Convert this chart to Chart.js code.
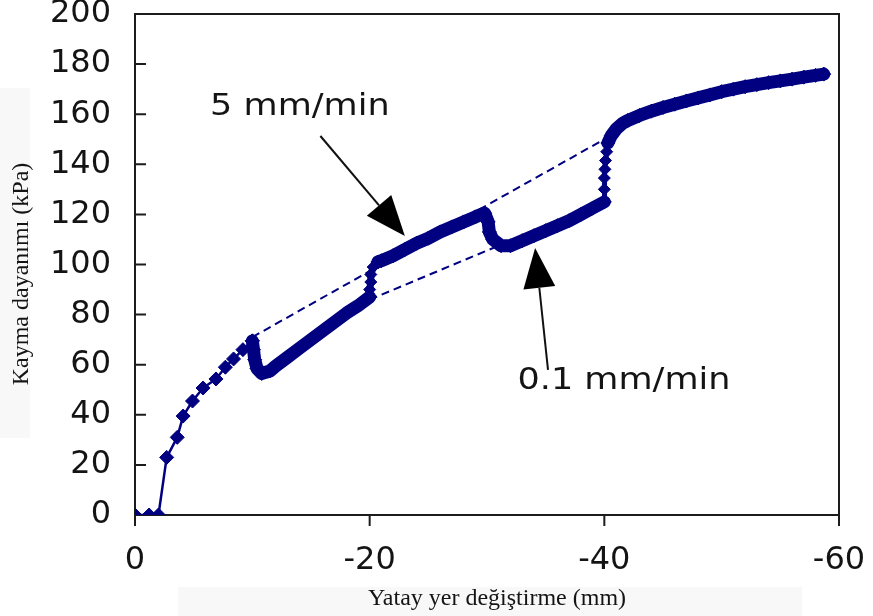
<!DOCTYPE html>
<html>
<head>
<meta charset="utf-8">
<script src="https://cdn.jsdelivr.net/npm/chart.js@4/dist/chart.umd.min.js"></script>
<style>
html,body{margin:0;padding:0;background:#fff;}
</style>
</head>
<body>
<canvas id="shearChart" width="873" height="616"></canvas>
<script>
// displacement (mm) / shear strength (kPa)
let startX = [0, -1.2, -2, -2.7, -3.6, -4.1, -4.9, -5.8, -6.9, -7.7, -8.4, -9.2, -10];
let startY = [0, 0, 0, 23, 31, 39.5, 45.5, 50.7, 54.3, 59, 62.3, 66, 69.5];

let slowAX = [-10, -10.1, -10.2, -10.4, -10.8, -11.5, -12, -13, -14, -15, -16, -17, -18, -19, -20];
let slowAY = [69.5, 66, 62, 58.5, 56.5, 57.5, 59.5, 63, 66.5, 70, 73.5, 77, 80.5, 83.5, 87];

let jump1X = [-20, -20, -20.1, -20.1, -20.3, -20.7];
let jump1Y = [87, 90, 93, 96, 99, 101];

let midX = [-20.7, -21, -22, -23, -24, -25, -26, -27, -28, -29, -29.8, -30.1, -30.2, -30.5, -31.2, -32, -33, -34, -35, -36, -37, -38, -39, -40];
let midY = [101, 101.5, 103.5, 106, 108.5, 110.5, 113, 115, 117, 119, 120.5, 117, 113, 110, 107.5, 107.5, 109.5, 111.5, 113.5, 115.5, 117.5, 120, 122.5, 125];

let jump2X = [-40, -40, -40, -40.05, -40.1, -40.2, -40.3];
let jump2Y = [125, 130, 134.5, 138, 141.5, 145, 148.5];

let lastX = [-40.3, -40.6, -41, -41.6, -42, -43, -44, -45, -46, -47, -48, -49, -50, -51, -52, -53, -54, -55, -56, -57, -58, -58.7];
let lastY = [148.5, 151.5, 154, 156.5, 157.5, 159.5, 161.2, 162.7, 164, 165.3, 166.5, 167.7, 169, 170, 171, 171.8, 172.6, 173.3, 174, 174.8, 175.5, 176];

// dashed trend lines (5 mm/min and 0.1 mm/min)
let fastLineX = [-10, -40];
let fastLineY = [71, 150];
let slowLineX = [-20, -31];
let slowLineY = [86, 107.5];

let xTicks = [0, -20, -40, -60];
let yTicks = [0, 20, 40, 60, 80, 100, 120, 140, 160, 180, 200];

const navy = '#000080';

function pts(xs, ys) {
  let out = [];
  for (let i = 0; i < xs.length; i++) {
    out.push({x: xs[i], y: ys[i]});
  }
  return out;
}

function markerSet(xs, ys, lineW, r) {
  return {
    data: pts(xs, ys),
    showLine: true,
    borderColor: navy,
    backgroundColor: navy,
    borderWidth: lineW,
    borderJoinStyle: 'round',
    borderCapStyle: 'round',
    pointStyle: 'rectRot',
    pointRadius: r,
    pointBorderWidth: 1,
    pointBorderColor: navy,
    pointBackgroundColor: navy
  };
}

function dashSet(xs, ys) {
  return {
    data: pts(xs, ys),
    showLine: true,
    borderColor: navy,
    borderWidth: 2,
    borderDash: [8, 5],
    pointRadius: 0
  };
}

function drawArrow(ctx, x0, y0, x1, y1) {
  let ang = Math.atan2(y1 - y0, x1 - x0);
  let headL = 40, headW = 16;
  let bx = x1 - Math.cos(ang) * headL, by = y1 - Math.sin(ang) * headL;
  ctx.beginPath();
  ctx.moveTo(x0, y0);
  ctx.lineTo(bx, by);
  ctx.stroke();
  ctx.beginPath();
  ctx.moveTo(x1, y1);
  ctx.lineTo(bx + Math.sin(ang) * headW, by - Math.cos(ang) * headW);
  ctx.lineTo(bx - Math.sin(ang) * headW, by + Math.cos(ang) * headW);
  ctx.closePath();
  ctx.fill();
}

function wideText(ctx, txt, px, py) {
  ctx.save();
  ctx.translate(px, py);
  ctx.scale(1.13, 1);
  ctx.fillText(txt, 0, 0);
  ctx.restore();
}

const decor = {
  id: 'decor',
  beforeDraw(chart) {
    let ctx = chart.ctx;
    ctx.save();
    ctx.fillStyle = '#fff';
    ctx.fillRect(0, 0, chart.width, chart.height);
    ctx.fillStyle = '#f8f8f8';
    ctx.fillRect(0, 88, 30, 350);
    ctx.fillRect(178, 587, 624, 29);
    ctx.restore();
  },
  beforeDatasetsDraw(chart) {
    let {ctx, chartArea: a, scales} = chart;
    ctx.save();
    ctx.strokeStyle = '#1c1c1c';
    ctx.lineWidth = 2;
    ctx.strokeRect(a.left, a.top, a.right - a.left, a.bottom - a.top);
    ctx.beginPath();
    scales.y.ticks.forEach(t => {
      let py = scales.y.getPixelForValue(t.value);
      ctx.moveTo(a.left, py);
      ctx.lineTo(a.left + 11, py);
    });
    scales.x.ticks.forEach(t => {
      let px = scales.x.getPixelForValue(t.value);
      ctx.moveTo(px, a.bottom);
      ctx.lineTo(px, a.bottom + 11);
    });
    ctx.stroke();
    ctx.restore();
  },
  afterDraw(chart) {
    let {ctx, scales: {x, y}} = chart;
    ctx.save();
    ctx.strokeStyle = '#111';
    ctx.fillStyle = '#000';
    ctx.lineWidth = 2;
    drawArrow(ctx, x.getPixelForValue(-15.8), y.getPixelForValue(151.3), x.getPixelForValue(-23.0), y.getPixelForValue(111.4));
    drawArrow(ctx, x.getPixelForValue(-35.2), y.getPixelForValue(57.9), x.getPixelForValue(-34.1), y.getPixelForValue(106.6));

    ctx.fillStyle = '#141414';
    ctx.font = '31px "DejaVu Sans"';
    ctx.textBaseline = 'middle';
    ctx.textAlign = 'left';
    wideText(ctx, '5 mm/min', x.getPixelForValue(-6.4), y.getPixelForValue(163));
    wideText(ctx, '0.1 mm/min', x.getPixelForValue(-32.6), y.getPixelForValue(53.5));

    // axis titles
    ctx.font = '24px "Liberation Serif"';
    ctx.textAlign = 'center';
    ctx.fillText('Yatay yer değiştirme (mm)', 497, 599);
    ctx.translate(22, 274);
    ctx.rotate(-Math.PI / 2);
    ctx.fillText('Kayma dayanımı (kPa)', 0, 0);
    ctx.restore();
  }
};

const ctx = document.getElementById('shearChart');
new Chart(ctx, {
  type: 'scatter',
  data: {
    datasets: [
      markerSet(startX, startY, 2.5, 7),
      markerSet(slowAX, slowAY, 13, 7),
      markerSet(jump1X, jump1Y, 7, 6),
      markerSet(midX, midY, 13, 7),
      markerSet(jump2X, jump2Y, 5, 6),
      markerSet(lastX, lastY, 13, 7),
      dashSet(fastLineX, fastLineY),
      dashSet(slowLineX, slowLineY)
    ]
  },
  options: {
    responsive: false,
    animation: false,
    devicePixelRatio: 1,
    layout: {padding: {top: 14, right: 34, left: 0, bottom: 0}},
    plugins: {legend: {display: false}, tooltip: {enabled: false}},
    scales: {
      x: {
        type: 'linear',
        min: -60, max: 0,
        reverse: true,
        grid: {display: false},
        border: {display: false},
        afterBuildTicks: s => { s.ticks = xTicks.map(v => ({value: v})); },
        ticks: {color: '#141414', padding: 18, font: {family: 'DejaVu Sans', size: 32}, maxRotation: 0},
        afterFit: s => { s.height = 101; s.paddingLeft = 0; s.paddingRight = 0; }
      },
      y: {
        type: 'linear',
        min: 0, max: 200,
        grid: {display: false},
        border: {display: false},
        afterBuildTicks: s => { s.ticks = yTicks.map(v => ({value: v})); },
        ticks: {color: '#141414', padding: 16, font: {family: 'DejaVu Sans', size: 32}},
        afterFit: s => { s.width = 135; s.paddingTop = 0; s.paddingBottom = 0; }
      }
    }
  },
  plugins: [decor]
});
</script>
</body>
</html>
